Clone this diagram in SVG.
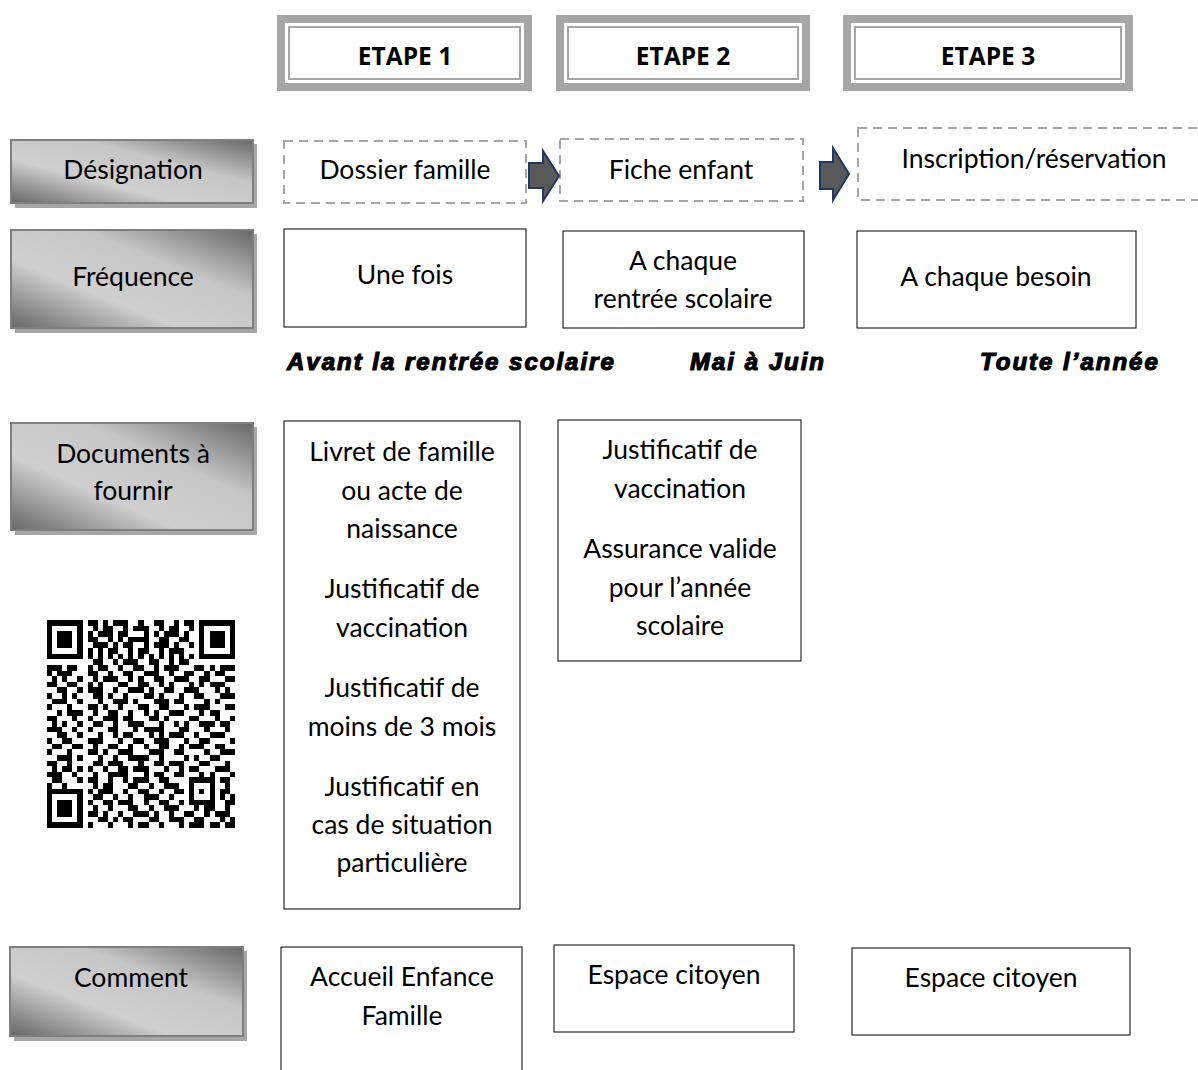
<svg xmlns="http://www.w3.org/2000/svg" width="1198" height="1070" viewBox="0 0 1198 1070">
<style>
.t{font-family:Lato,"Open Sans","Liberation Sans",sans-serif;font-size:26.5px;fill:#000;text-anchor:middle}
.h{font-family:"Open Sans","Liberation Sans",sans-serif;font-size:24.5px;font-weight:bold;fill:#000;text-anchor:middle}
.i{font-family:"Liberation Sans",Arial,sans-serif;font-size:24px;font-weight:bold;font-style:italic;fill:#000;stroke:#000;stroke-width:1.2;letter-spacing:2px}
.box{fill:#fff;stroke:#000;stroke-width:1}
.dash{fill:#fff;stroke:#a6a6a6;stroke-width:2;stroke-dasharray:9 6}
.lab{fill:url(#g);stroke:#7f7f7f;stroke-width:2}
.sh{fill:#a6a6a6}
.arr{fill:#595959;stroke:#1f3864;stroke-width:2;stroke-linejoin:miter}
</style>
<defs>
<linearGradient id="g" x1="0" y1="1" x2="1" y2="0">
<stop offset="0" stop-color="#666"/>
<stop offset="0.35" stop-color="#cfcfcf"/>
<stop offset="0.65" stop-color="#c6c6c6"/>
<stop offset="1" stop-color="#676767"/>
</linearGradient>
</defs>
<rect width="1198" height="1070" fill="#fff"/>

<g id="etape1">
<rect x="277" y="15" width="255" height="76" fill="#a6a6a6"/>
<rect x="285" y="23" width="239" height="60" fill="#fff"/>
<rect x="289" y="27" width="231" height="52" fill="none" stroke="#a6a6a6" stroke-width="2"/>
<text class="h" x="405" y="65">ETAPE 1</text>
</g>
<g id="etape2">
<rect x="556" y="15" width="254" height="76" fill="#a6a6a6"/>
<rect x="564" y="23" width="238" height="60" fill="#fff"/>
<rect x="568" y="27" width="230" height="52" fill="none" stroke="#a6a6a6" stroke-width="2"/>
<text class="h" x="683" y="65">ETAPE 2</text>
</g>
<g id="etape3">
<rect x="843" y="15" width="290" height="76" fill="#a6a6a6"/>
<rect x="851" y="23" width="274" height="60" fill="#fff"/>
<rect x="855" y="27" width="266" height="52" fill="none" stroke="#a6a6a6" stroke-width="2"/>
<text class="h" x="988" y="65">ETAPE 3</text>
</g>

<g id="lab-designation">
<rect class="sh" x="15" y="144" width="242" height="64"/>
<rect class="lab" x="11" y="140" width="242" height="63"/>
<text class="t" x="133" y="179">Désignation</text>
</g>
<g id="lab-frequence">
<rect class="sh" x="15" y="234" width="242" height="99"/>
<rect class="lab" x="11" y="230" width="242" height="98"/>
<text class="t" x="133" y="286">Fréquence</text>
</g>
<g id="lab-documents">
<rect class="sh" x="15" y="427" width="242" height="108"/>
<rect class="lab" x="11" y="423" width="242" height="107"/>
<text class="t" x="133" y="463">Documents à</text>
<text class="t" x="133" y="500">fournir</text>
</g>
<g id="lab-comment">
<rect class="sh" x="14" y="951" width="233" height="90"/>
<rect class="lab" x="10" y="947" width="233" height="89"/>
<text class="t" x="131" y="987">Comment</text>
</g>

<g id="dossier-famille">
<rect class="dash" x="284" y="141" width="242" height="62"/>
<text class="t" x="405" y="179">Dossier famille</text>
</g>
<g id="fiche-enfant">
<rect class="dash" x="560" y="139" width="243" height="62"/>
<text class="t" x="681" y="179">Fiche enfant</text>
</g>
<g id="inscription">
<rect class="dash" x="858" y="128" width="360" height="72"/>
<text class="t" x="1034" y="168">Inscription/réservation</text>
</g>

<g id="connectors">
<path class="arr" d="M529 163H543V151L559 176L543 201V188H529Z"/>
<path class="arr" d="M820 162H833V148L849 174L833 200V189H820Z"/>
</g>

<g id="une-fois">
<rect class="box" x="284" y="229" width="242" height="98"/>
<text class="t" x="405" y="284">Une fois</text>
</g>
<g id="chaque-rentree">
<rect class="box" x="563" y="231" width="241" height="97"/>
<text class="t" x="683" y="270">A chaque</text>
<text class="t" x="683" y="308">rentrée scolaire</text>
</g>
<g id="chaque-besoin">
<rect class="box" x="857" y="231" width="279" height="97"/>
<text class="t" x="996" y="286">A chaque besoin</text>
</g>

<g id="periodes">
<text class="i" x="287" y="370">Avant la rentrée scolaire</text>
<text class="i" x="690" y="370">Mai à Juin</text>
<text class="i" x="980" y="370">Toute l’année</text>
</g>

<g id="docs-1">
<rect class="box" x="284" y="421" width="236" height="488"/>
<text class="t" x="402" y="461">Livret de famille</text>
<text class="t" x="402" y="500">ou acte de</text>
<text class="t" x="402" y="538">naissance</text>
<text class="t" x="402" y="598">Justificatif de</text>
<text class="t" x="402" y="637">vaccination</text>
<text class="t" x="402" y="697">Justificatif de</text>
<text class="t" x="402" y="736">moins de 3 mois</text>
<text class="t" x="402" y="796">Justificatif en</text>
<text class="t" x="402" y="834">cas de situation</text>
<text class="t" x="402" y="872">particulière</text>
</g>
<g id="docs-2">
<rect class="box" x="558" y="420" width="243" height="241"/>
<text class="t" x="680" y="459">Justificatif de</text>
<text class="t" x="680" y="498">vaccination</text>
<text class="t" x="680" y="558">Assurance valide</text>
<text class="t" x="680" y="597">pour l’année</text>
<text class="t" x="680" y="635">scolaire</text>
</g>

<g id="qr" transform="translate(47,620) scale(5.08,5.62)" fill="#000" shape-rendering="crispEdges">
<path fill-rule="evenodd" d="M0 0h7v7h-7zM1 1v5h5v-5zM2 2h3v3h-3zM30 0h7v7h-7zM31 1v5h5v-5zM32 2h3v3h-3zM0 30h7v7h-7zM1 31v5h5v-5zM2 32h3v3h-3z"/>
<path d="M8 0h2v1h-2zM11 0h1v1h-1zM13 0h3v1h-3zM18 0h1v1h-1zM21 0h2v1h-2zM25 0h1v1h-1zM27 0h2v1h-2z
M9 1h1v1h-1zM11 1h2v1h-2zM15 1h1v1h-1zM17 1h3v1h-3zM22 1h1v1h-1zM24 1h2v1h-2zM28 1h1v1h-1z
M8 2h1v1h-1zM10 2h3v1h-3zM14 2h2v1h-2zM19 2h1v1h-1zM21 2h1v1h-1zM23 2h3v1h-3zM27 2h1v1h-1z
M8 3h2v1h-2zM12 3h1v1h-1zM14 3h1v1h-1zM16 3h4v1h-4zM22 3h2v1h-2zM26 3h2v1h-2z
M9 4h3v1h-3zM13 4h1v1h-1zM15 4h2v1h-2zM19 4h1v1h-1zM21 4h3v1h-3zM25 4h1v1h-1zM28 4h1v1h-1z
M8 5h1v1h-1zM10 5h1v1h-1zM12 5h2v1h-2zM16 5h1v1h-1zM18 5h2v1h-2zM22 5h1v1h-1zM24 5h3v1h-3z
M8 6h1v1h-1zM10 6h1v1h-1zM12 6h1v1h-1zM14 6h1v1h-1zM16 6h1v1h-1zM18 6h1v1h-1zM20 6h1v1h-1zM22 6h1v1h-1zM24 6h1v1h-1zM26 6h1v1h-1zM28 6h1v1h-1z
M9 7h2v1h-2zM13 7h1v1h-1zM15 7h3v1h-3zM20 7h2v1h-2zM24 7h1v1h-1zM26 7h2v1h-2z
M0 8h3v1h-3zM4 8h2v1h-2zM8 8h1v1h-1zM10 8h2v1h-2zM14 8h1v1h-1zM17 8h2v1h-2zM21 8h1v1h-1zM23 8h3v1h-3zM29 8h2v1h-2zM32 8h1v1h-1zM34 8h3v1h-3z
M0 9h1v1h-1zM2 9h3v1h-3zM8 9h2v1h-2zM12 9h1v1h-1zM15 9h2v1h-2zM19 9h3v1h-3zM24 9h1v1h-1zM27 9h2v1h-2zM31 9h1v1h-1zM33 9h2v1h-2z
M1 10h1v1h-1zM3 10h1v1h-1zM6 10h1v1h-1zM9 10h1v1h-1zM11 10h3v1h-3zM16 10h1v1h-1zM18 10h1v1h-1zM21 10h2v1h-2zM25 10h3v1h-3zM30 10h2v1h-2zM35 10h2v1h-2z
M0 11h2v1h-2zM4 11h2v1h-2zM8 11h1v1h-1zM10 11h1v1h-1zM14 11h2v1h-2zM18 11h2v1h-2zM22 11h1v1h-1zM24 11h1v1h-1zM28 11h1v1h-1zM30 11h1v1h-1zM32 11h3v1h-3z
M2 12h2v1h-2zM6 12h1v1h-1zM8 12h3v1h-3zM13 12h1v1h-1zM16 12h3v1h-3zM20 12h1v1h-1zM23 12h2v1h-2zM27 12h3v1h-3zM33 12h1v1h-1zM35 12h1v1h-1z
M0 13h1v1h-1zM3 13h1v1h-1zM5 13h1v1h-1zM9 13h2v1h-2zM12 13h1v1h-1zM15 13h1v1h-1zM19 13h2v1h-2zM22 13h1v1h-1zM26 13h1v1h-1zM29 13h2v1h-2zM34 13h3v1h-3z
M1 14h3v1h-3zM6 14h1v1h-1zM10 14h1v1h-1zM13 14h3v1h-3zM17 14h1v1h-1zM21 14h3v1h-3zM25 14h2v1h-2zM31 14h1v1h-1zM33 14h1v1h-1z
M0 15h1v1h-1zM4 15h1v1h-1zM8 15h2v1h-2zM11 15h1v1h-1zM14 15h1v1h-1zM18 15h2v1h-2zM22 15h2v1h-2zM27 15h1v1h-1zM29 15h3v1h-3zM35 15h2v1h-2z
M2 16h1v1h-1zM4 16h3v1h-3zM9 16h1v1h-1zM12 16h2v1h-2zM16 16h1v1h-1zM19 16h1v1h-1zM21 16h1v1h-1zM24 16h3v1h-3zM30 16h1v1h-1zM32 16h2v1h-2z
M0 17h2v1h-2zM5 17h1v1h-1zM8 17h1v1h-1zM11 17h3v1h-3zM15 17h2v1h-2zM20 17h2v1h-2zM23 17h1v1h-1zM28 17h2v1h-2zM33 17h1v1h-1zM36 17h1v1h-1z
M1 18h1v1h-1zM3 18h1v1h-1zM6 18h1v1h-1zM9 18h2v1h-2zM13 18h1v1h-1zM16 18h3v1h-3zM22 18h1v1h-1zM25 18h1v1h-1zM27 18h1v1h-1zM30 18h3v1h-3zM34 18h2v1h-2z
M0 19h3v1h-3zM5 19h1v1h-1zM8 19h1v1h-1zM12 19h2v1h-2zM17 19h1v1h-1zM19 19h4v1h-4zM26 19h2v1h-2zM31 19h1v1h-1zM35 19h1v1h-1z
M2 20h2v1h-2zM6 20h1v1h-1zM10 20h1v1h-1zM13 20h1v1h-1zM15 20h2v1h-2zM20 20h1v1h-1zM22 20h1v1h-1zM24 20h3v1h-3zM29 20h1v1h-1zM32 20h3v1h-3z
M0 21h1v1h-1zM3 21h2v1h-2zM8 21h3v1h-3zM14 21h1v1h-1zM17 21h2v1h-2zM21 21h3v1h-3zM27 21h1v1h-1zM30 21h2v1h-2zM36 21h1v1h-1z
M1 22h2v1h-2zM5 22h2v1h-2zM9 22h1v1h-1zM12 22h2v1h-2zM16 22h1v1h-1zM19 22h1v1h-1zM22 22h2v1h-2zM26 22h1v1h-1zM28 22h3v1h-3zM33 22h2v1h-2z
M0 23h1v1h-1zM4 23h1v1h-1zM8 23h2v1h-2zM11 23h1v1h-1zM14 23h3v1h-3zM20 23h3v1h-3zM25 23h2v1h-2zM31 23h1v1h-1zM34 23h3v1h-3z
M2 24h3v1h-3zM6 24h1v1h-1zM10 24h1v1h-1zM13 24h1v1h-1zM16 24h4v1h-4zM22 24h1v1h-1zM27 24h1v1h-1zM29 24h1v1h-1zM32 24h2v1h-2z
M0 25h2v1h-2zM4 25h1v1h-1zM9 25h2v1h-2zM12 25h3v1h-3zM18 25h1v1h-1zM21 25h2v1h-2zM24 25h3v1h-3zM30 25h2v1h-2zM35 25h1v1h-1z
M1 26h1v1h-1zM3 26h2v1h-2zM6 26h1v1h-1zM8 26h1v1h-1zM11 26h1v1h-1zM14 26h2v1h-2zM17 26h3v1h-3zM23 26h1v1h-1zM26 26h1v1h-1zM28 26h2v1h-2zM33 26h3v1h-3z
M0 27h3v1h-3zM5 27h1v1h-1zM9 27h1v1h-1zM12 27h4v1h-4zM19 27h1v1h-1zM21 27h2v1h-2zM25 27h2v1h-2zM30 27h1v1h-1zM32 27h1v1h-1zM36 27h1v1h-1z
M1 28h2v1h-2zM6 28h1v1h-1zM8 28h2v1h-2zM12 28h1v1h-1zM15 28h1v1h-1zM17 28h3v1h-3zM22 28h2v1h-2zM28 28h5v1h-5zM34 28h2v1h-2z
M0 29h1v1h-1zM3 29h1v1h-1zM9 29h1v1h-1zM11 29h2v1h-2zM16 29h2v1h-2zM20 29h1v1h-1zM23 29h3v1h-3zM28 29h1v1h-1zM32 29h1v1h-1zM35 29h1v1h-1z
M8 30h1v1h-1zM10 30h3v1h-3zM15 30h1v1h-1zM18 30h2v1h-2zM22 30h1v1h-1zM25 30h2v1h-2zM28 30h1v1h-1zM30 30h1v1h-1zM32 30h1v1h-1zM34 30h2v1h-2z
M9 31h2v1h-2zM13 31h1v1h-1zM16 31h1v1h-1zM19 31h3v1h-3zM24 31h1v1h-1zM28 31h1v1h-1zM32 31h1v1h-1zM34 31h1v1h-1zM36 31h1v1h-1z
M8 32h1v1h-1zM11 32h2v1h-2zM14 32h3v1h-3zM19 32h1v1h-1zM22 32h2v1h-2zM26 32h1v1h-1zM28 32h5v1h-5zM35 32h2v1h-2z
M9 33h1v1h-1zM12 33h1v1h-1zM16 33h2v1h-2zM20 33h1v1h-1zM23 33h3v1h-3zM29 33h1v1h-1zM31 33h2v1h-2zM35 33h1v1h-1z
M8 34h2v1h-2zM11 34h1v1h-1zM14 34h1v1h-1zM17 34h3v1h-3zM21 34h1v1h-1zM24 34h1v1h-1zM27 34h2v1h-2zM31 34h1v1h-1zM33 34h3v1h-3z
M10 35h2v1h-2zM13 35h1v1h-1zM15 35h2v1h-2zM20 35h2v1h-2zM24 35h3v1h-3zM29 35h2v1h-2zM34 35h1v1h-1zM36 35h1v1h-1z
M8 36h1v1h-1zM12 36h1v1h-1zM16 36h1v1h-1zM18 36h2v1h-2zM22 36h1v1h-1zM26 36h1v1h-1zM28 36h3v1h-3zM32 36h2v1h-2zM35 36h2v1h-2z"/>
</g>

<g id="accueil">
<rect class="box" x="281" y="947" width="241" height="140"/>
<text class="t" x="402" y="986">Accueil Enfance</text>
<text class="t" x="402" y="1025">Famille</text>
</g>
<g id="espace-2">
<rect class="box" x="554" y="945" width="240" height="87"/>
<text class="t" x="674" y="984">Espace citoyen</text>
</g>
<g id="espace-3">
<rect class="box" x="852" y="948" width="278" height="87"/>
<text class="t" x="991" y="987">Espace citoyen</text>
</g>
</svg>
